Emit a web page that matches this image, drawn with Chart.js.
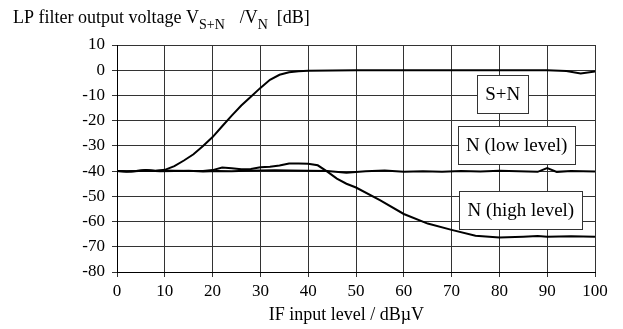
<!DOCTYPE html>
<html>
<head>
<meta charset="utf-8">
<script src="https://cdn.jsdelivr.net/npm/chart.js@4.4.1/dist/chart.umd.min.js"></script>
<style>
  html, body { margin: 0; padding: 0; background: #fff; }
  #wrap { width: 623px; height: 329px; }
</style>
</head>
<body>
<div id="wrap"><canvas id="lpChart"></canvas></div>
<script>
// IF input level (dBµV) and LP filter output (dB)
const snLevel = [0, 2, 4, 6, 8, 10, 12, 14, 16, 18, 20, 22, 24, 26, 28, 30, 32, 34, 36, 38, 40, 45, 50, 60, 70, 80, 90, 94, 97, 100];
const snOutput = [-40, -40.2, -40, -39.7, -40, -39.5, -38, -35.8, -33.3, -30, -26.5, -22.2, -18, -14, -10.5, -7, -3.8, -1.8, -0.8, -0.4, -0.2, -0.1, 0, 0, 0, 0, 0, -0.3, -1.3, -0.5];

const lowLevel = [0, 3, 6, 9, 12, 15, 18, 21, 24, 27, 30, 33, 36, 40, 44, 48, 52, 56, 60, 64, 68, 72, 76, 80, 84, 88, 90, 92, 95, 100];
const lowOutput = [-40, -40.2, -39.8, -40.1, -40, -39.9, -40.2, -40, -40.1, -39.9, -39.8, -39.7, -39.8, -39.9, -40, -40.6, -40.1, -39.8, -40.3, -40.1, -40.3, -40, -40.2, -39.9, -40.1, -40.3, -38.8, -40.3, -40, -40.2];

const highLevel = [0, 2, 4, 6, 8, 10, 12, 14, 16, 18, 20, 22, 24, 26, 28, 30, 32, 34, 36, 38, 40, 42, 44, 46, 48, 50, 55, 60, 65, 70, 75, 80, 85, 88, 90, 95, 100];
const highOutput = [-40, -40.2, -40, -39.6, -39.9, -39.8, -39.9, -40, -40, -40, -39.6, -38.6, -38.9, -39.3, -39.2, -38.5, -38.3, -37.8, -37, -37, -37.1, -37.7, -40.2, -43, -45, -46.5, -51.5, -57, -60.8, -63.3, -65.6, -66.3, -66, -65.7, -66, -65.8, -66];

const xTicks = [0, 10, 20, 30, 40, 50, 60, 70, 80, 90, 100];
const yTicks = [10, 0, -10, -20, -30, -40, -50, -60, -70, -80];

const curveLabels = ["S+N", "N (low level)", "N (high level)"];
const labelAtX = [80.7, 83.6, 84.5];
const labelAtY = [-9.4, -29.5, -55.5];

const xTitle = "IF input level / dBµV";

const serif = "'Liberation Serif', 'Times New Roman', serif";

function pairs(xs, ys) {
    return xs.map((x, i) => ({ x: x, y: ys[i] }));
}

function lineSet(label, xs, ys) {
    return {
        label: label,
        data: pairs(xs, ys),
        borderColor: "#000",
        borderWidth: 2,
        pointRadius: 0,
        tension: 0,
        fill: false,
    };
}

// y title with subscripts (top left) and x title (a bit left of centre, as in the original)
const titlePlugin = {
    id: "titlePlugin",
    afterDraw(chart) {
        const c = chart.ctx;
        c.save();
        c.fillStyle = "#000";
        c.textBaseline = "alphabetic";
        let x = 13;
        const y = 23;
        // text, font size, baseline shift, gap after
        const parts = [
            ["LP filter output voltage V", 18, 0, 0],
            ["S+N", 14, 6, 15],
            ["/V", 18, 0, 0],
            ["N", 14, 6, 9],
            ["[dB]", 18, 0, 0],
        ];
        parts.forEach(([txt, size, dy, gap]) => {
            c.font = size + "px " + serif;
            c.fillText(txt, x, y + dy);
            x += c.measureText(txt).width + gap;
        });

        c.font = "18px " + serif;
        c.textAlign = "center";
        c.textBaseline = "middle";
        c.fillText(xTitle, chart.scales.x.getPixelForValue(48), 315);
        c.restore();
    },
};

// boxed curve labels
const boxPlugin = {
    id: "boxPlugin",
    afterDatasetsDraw(chart) {
        const c = chart.ctx;
        const xs = chart.scales.x;
        const ys = chart.scales.y;
        c.save();
        c.font = "19px " + serif;
        c.textAlign = "center";
        c.textBaseline = "middle";
        curveLabels.forEach((txt, i) => {
            const cx = xs.getPixelForValue(labelAtX[i]);
            const cy = ys.getPixelForValue(labelAtY[i]);
            const w = Math.round(c.measureText(txt).width + 16);
            const h = 38;
            const left = Math.round(cx - w / 2) + 0.5;
            const top = Math.round(cy - h / 2) + 0.5;
            c.fillStyle = "#fff";
            c.fillRect(left, top, w, h);
            c.strokeStyle = "#333";
            c.lineWidth = 1;
            c.strokeRect(left, top, w, h);
            c.fillStyle = "#000";
            c.fillText(txt, cx, cy + 1);
        });
        c.restore();
    },
};

const lpChart = new Chart(document.getElementById("lpChart"), {
    type: "line",
    data: {
        datasets: [
            lineSet(curveLabels[0], snLevel, snOutput),
            lineSet(curveLabels[1], lowLevel, lowOutput),
            lineSet(curveLabels[2], highLevel, highOutput),
        ],
    },
    options: {
        responsive: true,
        maintainAspectRatio: false,
        animation: false,
        layout: { padding: { left: 0, top: 45, right: 28, bottom: 3 } },
        plugins: {
            legend: { display: false },
            tooltip: { enabled: false },
        },
        scales: {
            x: {
                type: "linear",
                min: 0,
                max: 100,
                afterBuildTicks: (s) => { s.ticks = xTicks.map((v) => ({ value: v })); },
                afterFit: (s) => { s.height = 54; },
                ticks: {
                    color: "#000",
                    padding: 4,
                    font: { size: 17, family: serif },
                },
                grid: { color: "#333", lineWidth: 1, tickLength: 5 },
                border: { color: "#000", width: 1 },
            },
            y: {
                type: "linear",
                min: -80,
                max: 10,
                afterBuildTicks: (s) => { s.ticks = yTicks.map((v) => ({ value: v })); },
                afterFit: (s) => { s.width = 117; },
                ticks: {
                    color: "#000",
                    padding: 7,
                    font: { size: 17, family: serif },
                },
                grid: { color: "#333", lineWidth: 1, tickLength: 5 },
                border: { color: "#000", width: 1 },
            },
        },
    },
    plugins: [titlePlugin, boxPlugin],
});
</script>
</body>
</html>
